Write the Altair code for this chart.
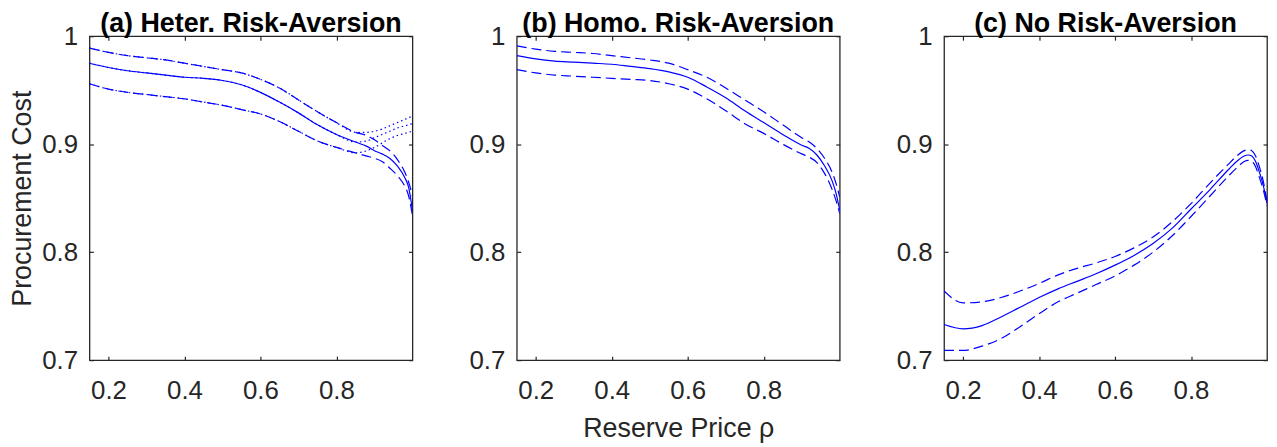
import altair as alt
import pandas as pd

# ---------------- data ----------------
# Panel (a) Heter. Risk-Aversion
xa = [0.15, 0.2, 0.25, 0.3, 0.35, 0.4, 0.45, 0.5, 0.55, 0.6, 0.65, 0.7, 0.75,
      0.8, 0.85, 0.88, 0.9, 0.92, 0.94, 0.96, 0.98, 0.99, 1.0]
a_est = [0.975, 0.971, 0.968, 0.966, 0.964, 0.962, 0.961, 0.959, 0.955, 0.948,
         0.939, 0.929, 0.918, 0.909, 0.902, 0.898, 0.894, 0.891, 0.887, 0.880,
         0.869, 0.860, 0.839]
a_dash_up = [0.989, 0.985, 0.982, 0.980, 0.978, 0.975, 0.972, 0.969, 0.966, 0.960,
             0.952, 0.941, 0.930, 0.920, 0.911, 0.908, 0.904, 0.899, 0.894, 0.886,
             0.874, 0.865, 0.852]
a_dash_lo = [0.956, 0.951, 0.948, 0.946, 0.944, 0.942, 0.939, 0.936, 0.932, 0.928,
             0.921, 0.912, 0.903, 0.897, 0.892, 0.889, 0.887, 0.884, 0.878, 0.871,
             0.861, 0.852, 0.834]
# dotted band: identical to the dashed band / estimate up to 0.85, then these tails
a_dot_up_tail = [0.911, 0.912, 0.914, 0.917, 0.920, 0.923, 0.9245, 0.926]
a_dot_mid_tail = [0.903, 0.906, 0.909, 0.912, 0.915, 0.917, 0.918, 0.919]
a_dot_lo_tail = [0.894, 0.897, 0.901, 0.905, 0.908, 0.910, 0.911, 0.912]

# Panel (b) Homo. Risk-Aversion
xb = [0.15, 0.2, 0.25, 0.3, 0.35, 0.4, 0.45, 0.5, 0.55, 0.6, 0.65, 0.7, 0.75,
      0.8, 0.85, 0.9, 0.92, 0.94, 0.96, 0.98, 0.99, 1.0]
b_est = [0.982, 0.979, 0.977, 0.976, 0.975, 0.974, 0.972, 0.970, 0.967, 0.962,
         0.953, 0.943, 0.931, 0.920, 0.909, 0.899, 0.896, 0.890, 0.880, 0.866,
         0.855, 0.839]
b_up = [0.991, 0.988, 0.986, 0.985, 0.984, 0.982, 0.980, 0.978, 0.975, 0.969,
        0.962, 0.952, 0.941, 0.930, 0.918, 0.906, 0.902, 0.896, 0.887, 0.874,
        0.864, 0.851]
b_lo = [0.969, 0.966, 0.964, 0.963, 0.962, 0.961, 0.960, 0.959, 0.956, 0.951,
        0.942, 0.931, 0.919, 0.910, 0.900, 0.891, 0.888, 0.883, 0.873, 0.858,
        0.848, 0.836]

# Panel (c) No Risk-Aversion
xc = [0.15, 0.2, 0.25, 0.3, 0.35, 0.4, 0.45, 0.5, 0.55, 0.6, 0.65, 0.7, 0.75,
      0.8, 0.85, 0.9, 0.92, 0.94, 0.95, 0.96, 0.97, 0.98, 0.99, 1.0]
c_est = [0.733, 0.729, 0.732, 0.740, 0.749, 0.758, 0.766, 0.773, 0.780, 0.788,
         0.797, 0.808, 0.822, 0.840, 0.858, 0.877, 0.884, 0.889, 0.890, 0.889,
         0.884, 0.874, 0.862, 0.845]
c_up = [0.764, 0.753, 0.754, 0.758, 0.764, 0.771, 0.779, 0.785, 0.790, 0.796,
        0.804, 0.814, 0.828, 0.845, 0.864, 0.882, 0.889, 0.894, 0.895, 0.894,
        0.889, 0.879, 0.866, 0.847]
c_lo = [0.709, 0.709, 0.713, 0.720, 0.731, 0.743, 0.754, 0.762, 0.770, 0.778,
        0.788, 0.800, 0.815, 0.833, 0.852, 0.871, 0.878, 0.884, 0.885, 0.884,
        0.879, 0.869, 0.858, 0.843]

titles = ["(a) Heter. Risk-Aversion", "(b) Homo. Risk-Aversion", "(c) No Risk-Aversion"]
x_ticks = [0.2, 0.4, 0.6, 0.8]
y_ticks = [0.7, 0.8, 0.9, 1.0]
y_title = "Procurement Cost"
x_title = "Reserve Price ρ"

# ---------------- styling ----------------
BLUE = "#0000ff"
AXC = "#262626"
FONT = "Liberation Sans"
DASH = [10, 5]
DOT = [1.5, 3]
TICK = 4

XS = alt.Scale(domain=[0.15, 1.0], nice=False, zero=False)
YS = alt.Scale(domain=[0.7, 1.0], nice=False, zero=False)


def frame(xs, ys):
    return pd.DataFrame({"x": xs, "y": ys})


def line(df, dash=None):
    kw = dict(color=BLUE, strokeWidth=1.2, interpolate="monotone", clip=True)
    if dash is not None:
        kw["strokeDash"] = dash
    return alt.Chart(df).mark_line(**kw).encode(
        x=alt.X("x:Q", scale=XS, axis=None),
        y=alt.Y("y:Q", scale=YS, axis=None),
    )


def panel(series, title, first, middle):
    df0 = series[0][0]
    label_layer = alt.Chart(df0).mark_point(opacity=0, size=0).encode(
        x=alt.X("x:Q", scale=XS, axis=alt.Axis(
            orient="bottom", values=x_ticks, format=".1f", ticks=False, tickSize=0,
            domain=False, grid=False, labelFontSize=26, labelColor=AXC,
            labelPadding=18, labelFont=FONT,
            title=x_title if middle else None,
            titleFontSize=27, titleFontWeight="normal", titleColor=AXC,
            titleFont=FONT, titlePadding=12)),
        y=alt.Y("y:Q", scale=YS, axis=alt.Axis(
            orient="left", values=y_ticks,
            labelExpr="datum.value == 1 ? '1' : format(datum.value, '.1f')",
            ticks=False, tickSize=0, domain=False, grid=False,
            labelFontSize=26, labelColor=AXC, labelPadding=12, labelFont=FONT,
            title=y_title if first else None,
            titleFontSize=27, titleFontWeight="normal", titleColor=AXC,
            titleFont=FONT, titlePadding=5)),
    )
    tick_kw = dict(labels=False, domain=False, grid=False, ticks=True, minExtent=0,
                   tickSize=TICK, offset=-TICK, tickColor=AXC, tickWidth=1.2, title=None)
    ticks_bl = alt.Chart(df0).mark_point(opacity=0, size=0).encode(
        x=alt.X("x:Q", scale=XS, axis=alt.Axis(orient="bottom", values=x_ticks, **tick_kw)),
        y=alt.Y("y:Q", scale=YS, axis=alt.Axis(orient="left", values=y_ticks, **tick_kw)),
    )
    ticks_tr = alt.Chart(df0).mark_point(opacity=0, size=0).encode(
        x=alt.X("x:Q", scale=XS, axis=alt.Axis(orient="top", values=x_ticks, **tick_kw)),
        y=alt.Y("y:Q", scale=YS, axis=alt.Axis(orient="right", values=y_ticks, **tick_kw)),
    )
    lines = [line(df, dash) for df, dash in series]
    return alt.layer(label_layer, ticks_bl, ticks_tr, *lines).resolve_axis(
        x="independent", y="independent"
    ).properties(
        width=325, height=326,
        view=alt.ViewBackground(stroke=AXC, strokeWidth=1.3),
        title=alt.TitleParams(title, anchor="middle", fontSize=27, fontWeight="bold",
                              font=FONT, color="#000000", offset=-15),
    )


head = 15
series_a = [
    (frame(xa, a_est), None),
    (frame(xa, a_dash_up), DASH),
    (frame(xa, a_dash_lo), DASH),
    (frame(xa, a_dash_up[:head] + a_dot_up_tail), DOT),
    (frame(xa, a_est[:head] + a_dot_mid_tail), DOT),
    (frame(xa, a_dash_lo[:head] + a_dot_lo_tail), DOT),
]
series_b = [
    (frame(xb, b_est), None),
    (frame(xb, b_up), DASH),
    (frame(xb, b_lo), DASH),
]
series_c = [
    (frame(xc, c_est), None),
    (frame(xc, c_up), DASH),
    (frame(xc, c_lo), DASH),
]

pa = panel(series_a, titles[0], True, False)
pb = panel(series_b, titles[1], False, True)
pc = panel(series_c, titles[2], False, False)

chart = alt.hconcat(pa, pb, pc, spacing=54, padding=0).configure_view(
    stroke=AXC, strokeWidth=1.3
).configure(background="white")

chart.save("out.html", embed_options={"renderer": "svg", "actions": False})
